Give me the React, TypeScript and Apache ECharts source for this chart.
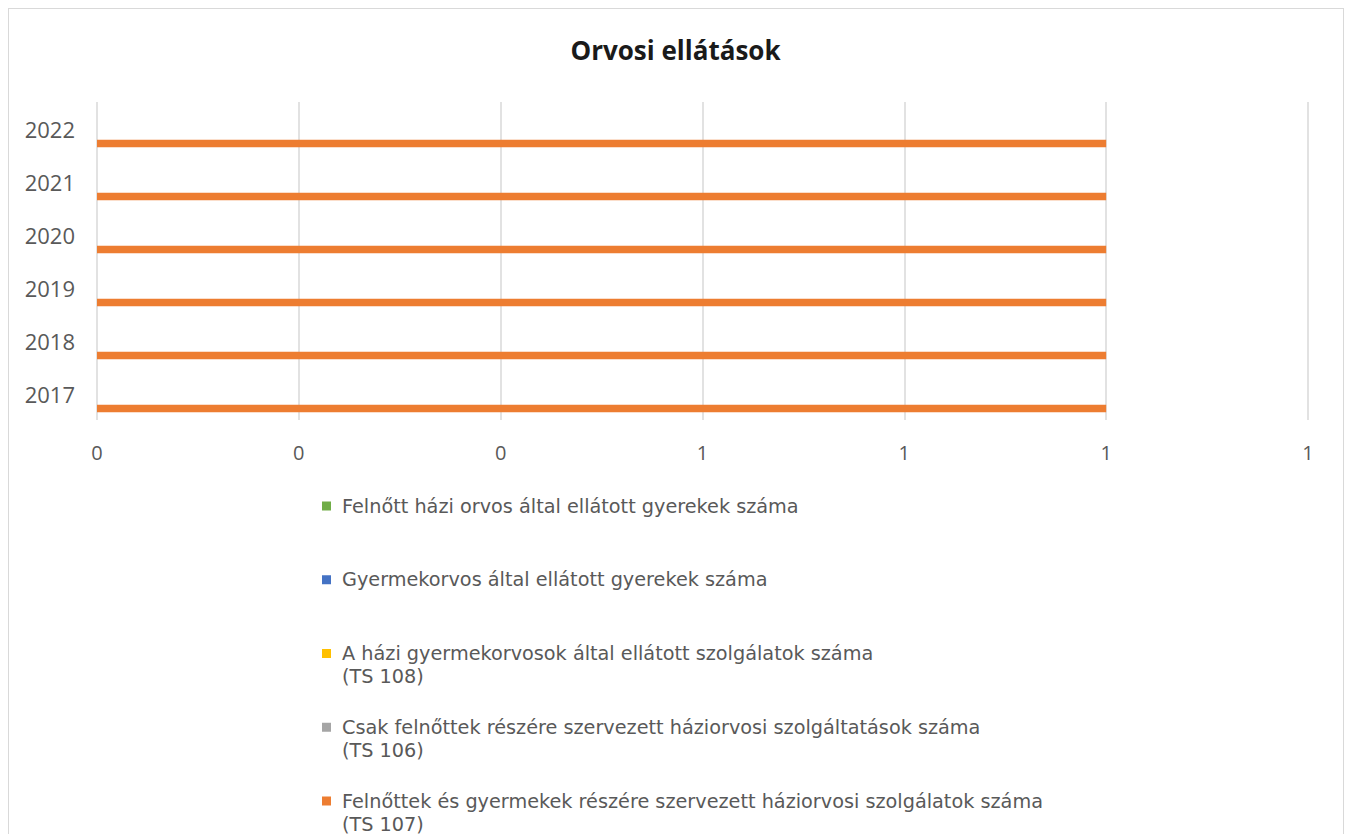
import React, { useEffect, useRef } from 'react';
import * as echarts from 'echarts';

const categories = ['2017', '2018', '2019', '2020', '2021', '2022'];

const seriesNames = [
  'Felnőtt házi orvos által ellátott gyerekek száma',
  'Gyermekorvos által ellátott gyerekek száma',
  'A házi gyermekorvosok által ellátott szolgálatok száma (TS 108)',
  'Csak felnőttek részére szervezett háziorvosi szolgáltatások száma (TS 106)',
  'Felnőttek és gyermekek részére szervezett háziorvosi szolgálatok száma (TS 107)',
];

const adultDoctorChildren = [0, 0, 0, 0, 0, 0];
const pediatricianChildren = [0, 0, 0, 0, 0, 0];
const ts108Values = [0, 0, 0, 0, 0, 0];
const ts106Values = [0, 0, 0, 0, 0, 0];
const ts107Values = [1, 1, 1, 1, 1, 1];

const seriesValues = [adultDoctorChildren, pediatricianChildren, ts108Values, ts106Values, ts107Values];
const seriesColors = ['#70AD47', '#4472C4', '#FFC000', '#A5A5A5', '#ED7D31'];

const FONT = "'Open Sans', sans-serif";
const LEGEND_FONT = "'DejaVu Sans', sans-serif";

export default function App() {
  const ref = useRef<HTMLDivElement>(null);

  useEffect(() => {
    if (!ref.current) return;
    const chart = echarts.init(ref.current, undefined, { renderer: 'svg' });
    chart.setOption({
      animation: false,
      textStyle: { fontFamily: FONT },
      title: {
        text: 'Orvosi ellátások',
        left: 'center',
        top: 28,
        padding: 0,
        textStyle: { fontFamily: FONT, fontSize: 26, fontWeight: 'bold', color: '#1a1a1a' },
      },
      grid: { left: 88, right: 34, top: 93, height: 318, containLabel: false },
      xAxis: {
        type: 'value',
        min: 0,
        max: 1.2,
        interval: 0.2,
        axisLine: { show: false },
        axisTick: { show: false },
        splitLine: { show: true, lineStyle: { color: '#d9d9d9', width: 1.5 } },
        axisLabel: {
          fontFamily: FONT,
          fontSize: 20,
          color: '#595959',
          margin: 22,
          formatter: (v: number) => String(Math.round(v)),
        },
      },
      yAxis: {
        type: 'category',
        data: categories,
        axisLine: { show: false },
        axisTick: { show: false },
        splitLine: { show: false },
        axisLabel: { fontFamily: FONT, fontSize: 22, color: '#595959', margin: 22 },
      },
      legend: {
        orient: 'vertical',
        left: 313,
        top: 462.5,
        padding: 0,
        itemGap: 4.75,
        itemWidth: 9,
        itemHeight: 9,
        icon: 'rect',
        data: seriesNames,
        textStyle: {
          fontFamily: LEGEND_FONT,
          fontSize: 19.25,
          color: '#595959',
          lineHeight: 23,
          padding: [0, 0, 0, 6],
        },
        formatter: (name: string) => {
          const idx = name.indexOf(' (TS');
          if (idx >= 0) return '\n' + name.slice(0, idx) + '\n' + name.slice(idx + 1);
          return '\n' + name + '\n';
        },
      },
      series: seriesNames.map((name, i) => ({
        name,
        type: 'bar',
        data: seriesValues[i],
        itemStyle: { color: seriesColors[i] },
        barGap: '0%',
        barCategoryGap: '29%',
      })),
    });
    return () => chart.dispose();
  }, []);

  return (
    <div
      style={{
        position: 'fixed',
        left: 8,
        top: 8,
        width: 1336,
        height: 826,
        overflow: 'hidden',
        boxSizing: 'border-box',
        borderTop: '1.5px solid #d9d9d9',
        borderLeft: '1.5px solid #d9d9d9',
        borderRight: '1.5px solid #d9d9d9',
        background: '#fff',
      }}
    >
      <div ref={ref} style={{ width: 1333, height: 850 }} />
    </div>
  );
}
